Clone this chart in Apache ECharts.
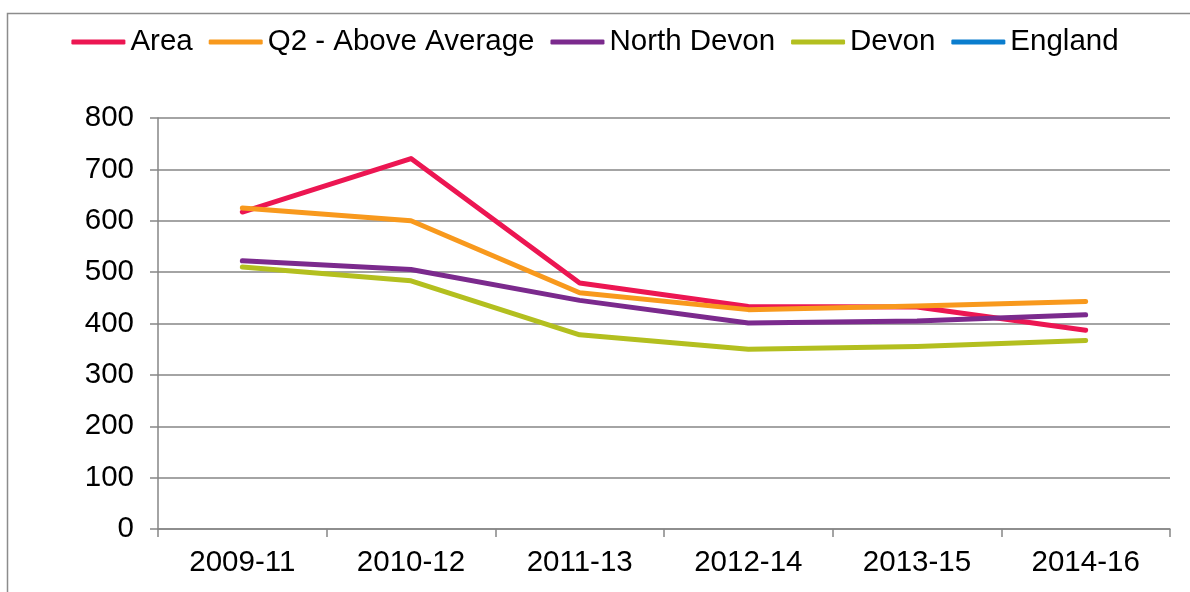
<!DOCTYPE html>
<html>
<head>
<meta charset="utf-8">
<script src="https://cdn.jsdelivr.net/npm/echarts@6/dist/echarts.min.js"></script>
<style>html,body{margin:0;padding:0;background:#fff;}#c{width:1190px;height:592px;}</style>
</head>
<body>
<div id="c"></div>
<script>
var categories = ['2009-11', '2010-12', '2011-13', '2012-14', '2013-15', '2014-16'];
var area = [617, 721, 479, 433, 432, 387];
var q2 = [625, 600, 460, 427, 434, 443];
var northDevon = [522, 505, 445, 401, 405, 417];
var devon = [510, 483, 378, 350, 355, 367];
var england = [null, null, null, null, null, null];
var yTicks = [0, 100, 200, 300, 400, 500, 600, 700, 800];

var names = ['Area', 'Q2 - Above Average', 'North Devon', 'Devon', 'England'];
var colors = ['#EC1652', '#F8991D', '#7B2A8D', '#B3BF1F', '#0A7DCE'];
var datas = [area, q2, northDevon, devon, england];

var chart = echarts.init(document.getElementById('c'), null, {renderer: 'canvas'});
var font = 'Liberation Sans, Arial, sans-serif';
chart.setOption({
  animation: false,
  backgroundColor: '#fff',
  color: colors,
  graphic: [{
    type: 'rect', left: 5, top: 11, shape: {x: 0, y: 0, width: 1200, height: 600},
    style: {fill: 'none', stroke: '#8c8c8c', lineWidth: 1.5}, silent: true, z: -10
  }],
  legend: {
    top: 22, left: 'center',
    itemWidth: 54, itemHeight: 5, itemGap: 16,
    icon: 'roundRect',
    textStyle: {fontFamily: font, fontSize: 29.5, color: '#000', padding: [0, 0, 0, 0]},
    data: names
  },
  grid: {left: 158, right: 20, top: 118, bottom: 63, containLabel: false},
  xAxis: {
    type: 'category', data: categories, boundaryGap: true,
    axisLine: {lineStyle: {color: '#868686', width: 1.5}},
    axisTick: {show: true, length: 8, inside: false, lineStyle: {color: '#868686', width: 1.5}},
    axisLabel: {fontFamily: font, fontSize: 29.5, color: '#000', margin: 19}
  },
  yAxis: {
    type: 'value', min: yTicks[0], max: yTicks[yTicks.length - 1], interval: 100,
    axisLine: {show: true, lineStyle: {color: '#868686', width: 1.5}},
    axisTick: {show: true, length: 8, lineStyle: {color: '#868686', width: 1.5}},
    axisLabel: {fontFamily: font, fontSize: 29.5, color: '#000', margin: 24},
    splitLine: {lineStyle: {color: '#868686', width: 1.5}}
  },
  series: names.map(function (n, i) {
    return {
      name: n, type: 'line', data: datas[i], symbol: 'none', smooth: false,
      lineStyle: {width: 5, color: colors[i], cap: 'round', join: 'round'},
      itemStyle: {color: colors[i]}
    };
  })
});
</script>
</body>
</html>
